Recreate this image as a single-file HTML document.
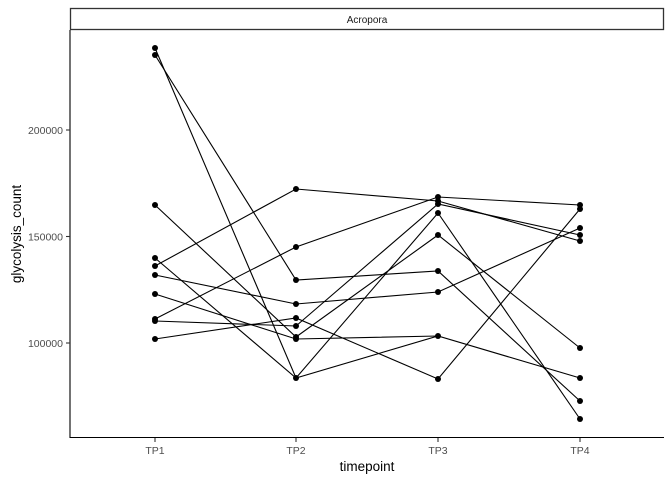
<!DOCTYPE html>
<html><head><style>body{margin:0;background:#fff}svg{display:block}</style></head>
<body>
<svg width="672" height="480" xmlns="http://www.w3.org/2000/svg" font-family="Liberation Sans, sans-serif">
<rect width="672" height="480" fill="#fff"/>
<rect x="70.5" y="8.5" width="593" height="21" fill="#fff" stroke="#333" stroke-width="1.3"/>
<text x="367" y="23" font-size="10" text-anchor="middle" fill="#1a1a1a">Acropora</text>
<g stroke="#000" stroke-width="1.1" fill="none">
<polyline points="155,48 296,378 438,213 580,419"/>
<polyline points="155,55 296,280 438,271 580,401"/>
<polyline points="155,205 296,337 438,235 580,348"/>
<polyline points="155,258 296,378 438,336 580,378"/>
<polyline points="155,266 296,189 438,201 580,241"/>
<polyline points="155,275 296,304 438,292 580,228"/>
<polyline points="155,294 296,339 438,336"/>
<polyline points="155,319 296,247 438,197 580,205"/>
<polyline points="155,321 296,326 438,204 580,235"/>
<polyline points="155,339 296,318 438,379 580,209"/>
</g>
<g fill="#000">
<circle cx="155" cy="48" r="3"/><circle cx="155" cy="55" r="3"/><circle cx="155" cy="205" r="3"/><circle cx="155" cy="258" r="3"/><circle cx="155" cy="266" r="3"/><circle cx="155" cy="275" r="3"/><circle cx="155" cy="294" r="3"/><circle cx="155" cy="319" r="3"/><circle cx="155" cy="321" r="3"/><circle cx="155" cy="339" r="3"/>
<circle cx="296" cy="189" r="3"/><circle cx="296" cy="247" r="3"/><circle cx="296" cy="280" r="3"/><circle cx="296" cy="304" r="3"/><circle cx="296" cy="318" r="3"/><circle cx="296" cy="326" r="3"/><circle cx="296" cy="337" r="3"/><circle cx="296" cy="339" r="3"/><circle cx="296" cy="378" r="3"/>
<circle cx="438" cy="197" r="3"/><circle cx="438" cy="201" r="3"/><circle cx="438" cy="204" r="3"/><circle cx="438" cy="213" r="3"/><circle cx="438" cy="235" r="3"/><circle cx="438" cy="271" r="3"/><circle cx="438" cy="292" r="3"/><circle cx="438" cy="336" r="3"/><circle cx="438" cy="379" r="3"/>
<circle cx="580" cy="205" r="3"/><circle cx="580" cy="209" r="3"/><circle cx="580" cy="228" r="3"/><circle cx="580" cy="235" r="3"/><circle cx="580" cy="241" r="3"/><circle cx="580" cy="348" r="3"/><circle cx="580" cy="378" r="3"/><circle cx="580" cy="401" r="3"/><circle cx="580" cy="419" r="3"/>
</g>
<g stroke="#000" stroke-width="1.1">
<line x1="70" y1="30" x2="70" y2="438"/>
<line x1="69.5" y1="437.5" x2="664" y2="437.5"/>
</g>
<g stroke="#333" stroke-width="1.1">
<line x1="66" y1="130" x2="70" y2="130"/><line x1="66" y1="236.5" x2="70" y2="236.5"/><line x1="66" y1="343" x2="70" y2="343"/>
<line x1="155" y1="438" x2="155" y2="442"/><line x1="296" y1="438" x2="296" y2="442"/><line x1="438" y1="438" x2="438" y2="442"/><line x1="580" y1="438" x2="580" y2="442"/>
</g>
<g font-size="10.5" fill="#4d4d4d">
<text x="63" y="134" text-anchor="end">200000</text>
<text x="63" y="240.5" text-anchor="end">150000</text>
<text x="63" y="347" text-anchor="end">100000</text>
<text x="155" y="454" text-anchor="middle">TP1</text>
<text x="296" y="454" text-anchor="middle">TP2</text>
<text x="438" y="454" text-anchor="middle">TP3</text>
<text x="580" y="454" text-anchor="middle">TP4</text>
</g>
<text x="367" y="471" font-size="13.5" text-anchor="middle" fill="#000">timepoint</text>
<text transform="translate(21,234) rotate(-90)" font-size="13.5" text-anchor="middle" fill="#000">glycolysis_count</text>
</svg>
</body></html>
